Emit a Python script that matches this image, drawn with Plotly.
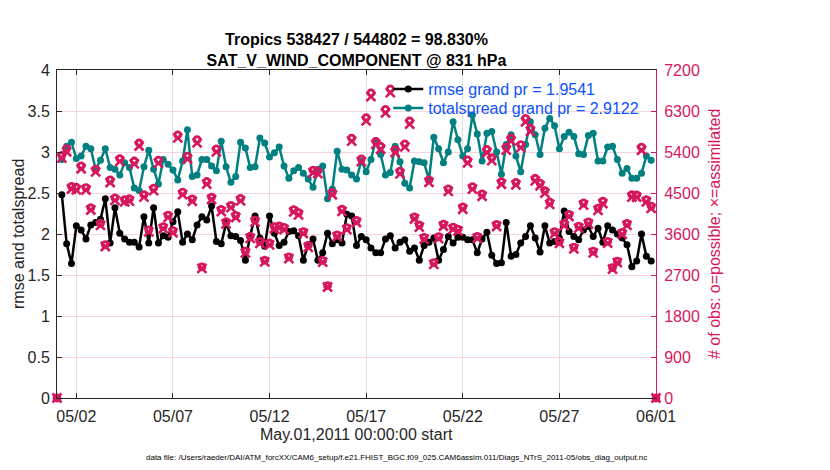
import pandas as pd
import plotly.graph_objects as go

# ---------------- data ----------------
bin_start = "2011-05-01 06:00"
bin_freq = "6h"
n_bins = 123
x_range = ["2011-05-01 00:00", "2011-06-01 00:00"]
edge_times = ["2011-05-01 00:00", "2011-06-01 00:00"]
edge_counts = [0, 0]

tick_dates = ["2011-05-02", "2011-05-07", "2011-05-12", "2011-05-17",
              "2011-05-22", "2011-05-27", "2011-06-01"]
tick_labels = ["05/02", "05/07", "05/12", "05/17", "05/22", "05/27", "06/01"]

rmse = [2.48, 1.88, 1.64, 2.10, 2.05, 1.94, 2.11, 2.14, 2.18, 2.43,
        1.89, 2.32, 2.01, 1.94, 1.90, 1.90, 1.84, 2.21, 1.89, 2.32,
        1.89, 1.98, 1.96, 2.15, 2.27, 1.90, 2.00, 1.93, 2.11, 2.21,
        2.17, 2.34, 1.91, 1.88, 2.13, 1.98, 1.97, 1.92, 1.68, 1.98,
        2.22, 1.95, 1.85, 2.22, 2.01, 1.86, 1.90, 2.03, 2.04, 1.98,
        1.68, 1.87, 1.94, 1.68, 1.77, 2.01, 1.88, 1.93, 1.89, 2.24,
        2.22, 1.86, 1.97, 1.93, 1.83, 1.77, 1.77, 1.94, 1.98, 1.83,
        1.90, 1.93, 1.79, 1.83, 1.68, 1.86, 1.90, 1.95, 1.68, 1.81,
        1.97, 1.89, 1.96, 1.96, 1.93, 1.93, 1.77, 1.94, 2.02, 1.74,
        1.64, 1.65, 2.14, 1.73, 1.75, 1.89, 1.97, 2.10, 1.95, 1.78,
        2.10, 1.89, 1.91, 1.95, 2.28, 2.03, 1.97, 1.93, 2.05, 2.09,
        1.97, 2.07, 1.90, 2.10, 2.05, 2.00, 1.95, 1.87, 1.60, 1.67,
        2.00, 1.73, 1.67]

totalspread = [2.91, 3.07, 3.12, 2.92, 2.95, 3.07, 3.04, 2.79, 2.90, 3.04,
               2.81, 2.79, 2.72, 2.87, 2.81, 2.56, 2.53, 2.82, 3.02, 2.79,
               2.61, 2.91, 2.85, 2.78, 2.66, 2.89, 3.27, 2.70, 2.72, 2.91,
               2.91, 2.83, 2.77, 3.13, 2.82, 2.63, 2.70, 3.12, 3.05, 2.81,
               2.82, 3.17, 3.11, 2.94, 2.99, 3.06, 2.83, 2.68, 2.77, 2.81,
               2.74, 2.67, 2.57, 2.79, 2.83, 2.43, 2.55, 3.01, 2.79, 2.78,
               2.72, 2.67, 2.89, 2.76, 2.91, 3.14, 2.97, 2.72, 2.75, 3.07,
               2.88, 2.62, 2.56, 2.89, 2.88, 2.87, 2.66, 3.18, 3.04, 2.87,
               3.00, 3.37, 3.15, 2.95, 3.04, 3.45, 3.22, 2.89, 3.23, 3.25,
               3.00, 2.73, 3.09, 3.21, 2.95, 2.76, 3.09, 3.37, 3.21, 2.97,
               3.29, 3.41, 3.32, 3.04, 3.19, 3.24, 3.19, 2.98, 2.97, 3.20,
               3.23, 2.89, 2.89, 3.06, 3.07, 2.91, 2.74, 2.80, 2.68, 2.68,
               2.74, 2.95, 2.90]

obs_possible = [5328, 5472, 4644, 4626, 5094, 4620, 4176, 5022, 3834, 3366,
                4788, 4392, 5256, 4356, 4374, 5202, 5598, 4464, 3690, 4608,
                5220, 3762, 4014, 3672, 5778, 4518, 5310, 4370, 5670, 2880,
                4752, 4410, 5470, 4140, 3870, 4230, 4010, 4380, 3222, 3546,
                3906, 3438, 3024, 3402, 3760, 3780, 3744, 3096, 4135, 4068,
                3654, 3348, 5004, 4986, 3020, 2466, 4515, 3582, 4145, 3740,
                5706, 3900, 5250, 6156, 6696, 5634, 5526, 6336, 6786, 5454,
                4980, 5580, 6084, 3978, 3798, 3528, 4790, 2970, 3540, 3816,
                4590, 3750, 3708, 4194, 5225, 4640, 3550, 4482, 5455, 5274,
                3810, 4750, 5508, 5710, 4734, 5562, 6138, 5922, 4824, 4716,
                4554, 4302, 3650, 3435, 3830, 4032, 3312, 3775, 4284, 3865,
                3225, 4170, 4320, 3440, 2862, 3006, 3636, 3835, 4464, 4460,
                5505, 4356, 4212]

obs_assimilated = [5264, 5406, 4588, 4570, 5033, 4565, 4126, 4962, 3788, 3326,
                   4731, 4339, 5193, 4304, 4322, 5140, 5531, 4410, 3646, 4553,
                   5157, 3717, 3966, 3628, 5709, 4464, 5246, 4318, 5602, 2845,
                   4695, 4357, 5404, 4090, 3824, 4179, 3962, 4327, 3183, 3503,
                   3859, 3397, 2988, 3361, 3715, 3735, 3699, 3059, 4085, 4019,
                   3610, 3308, 4944, 4926, 2984, 2436, 4461, 3539, 4095, 3695,
                   5638, 3853, 5187, 6082, 6616, 5566, 5460, 6260, 6705, 5389,
                   4920, 5513, 6011, 3930, 3752, 3486, 4733, 2934, 3498, 3770,
                   4535, 3705, 3664, 4144, 5162, 4584, 3507, 4428, 5390, 5211,
                   3764, 4693, 5442, 5641, 4677, 5495, 6064, 5851, 4766, 4659,
                   4499, 4250, 3606, 3394, 3784, 3984, 3272, 3730, 4233, 3819,
                   3186, 4120, 4268, 3399, 2828, 2970, 3592, 3789, 4410, 4406,
                   5439, 4304, 4161]

rmse_label = "rmse grand pr = 1.9541"
spread_label = "totalspread grand pr = 2.9122"
title_lines = ["Tropics 538427 / 544802 = 98.830%", "SAT_V_WIND_COMPONENT @ 831 hPa"]
xlabel = "May.01,2011 00:00:00 start"
ylabel_left = "rmse and totalspread"
ylabel_right = "# of obs: o=possible; \u00d7=assimilated"
footnote = ("data file: /Users/raeder/DAI/ATM_forcXX/CAM6_setup/f.e21.FHIST_BGC."
            "f09_025.CAM6assim.011/Diags_NTrS_2011-05/obs_diag_output.nc")

# ---------------- style ----------------
PINK = "#D6175E"
TEAL = "#008080"
BLUE = "#0A52FF"
AXC = "#262626"
FONT = "Liberation Sans"

times = pd.date_range(bin_start, periods=n_bins, freq=bin_freq)

fig = go.Figure()

fig.add_trace(go.Scatter(
    x=times, y=rmse, mode="lines+markers", name=rmse_label,
    line=dict(color="black", width=2.5),
    marker=dict(symbol="circle", size=7, color="black"),
    yaxis="y", legend="legend"))
fig.add_trace(go.Scatter(
    x=times, y=totalspread, mode="lines+markers", name=spread_label,
    line=dict(color=TEAL, width=2.5),
    marker=dict(symbol="circle", size=7, color=TEAL),
    yaxis="y", legend="legend2"))

# counts on right axis
cnt_x = list(pd.to_datetime(edge_times[:1])) + list(times) + list(pd.to_datetime(edge_times[1:]))
poss_y = edge_counts[:1] + obs_possible + edge_counts[1:]
assim_y = edge_counts[:1] + obs_assimilated + edge_counts[1:]
fig.add_trace(go.Scatter(
    x=cnt_x, y=poss_y, mode="markers", showlegend=False, cliponaxis=False,
    marker=dict(symbol="circle-open", size=6, color=PINK, line=dict(color=PINK, width=2.8)),
    yaxis="y2"))
fig.add_trace(go.Scatter(
    x=cnt_x, y=assim_y, mode="markers", showlegend=False, cliponaxis=False,
    marker=dict(symbol="x-thin-open", size=9, color=PINK, line=dict(color=PINK, width=2.6)),
    yaxis="y2"))

leg_common = dict(xanchor="left", yanchor="middle",
                  bgcolor="rgba(0,0,0,0)", borderwidth=0,
                  font=dict(family=FONT, size=16, color=BLUE), itemwidth=30)

fig.update_layout(
    width=830, height=470,
    margin=dict(l=57, r=174, t=70, b=72),
    paper_bgcolor="white", plot_bgcolor="white",
    font=dict(family=FONT, size=16, color=AXC),
    title=dict(text="<b>" + title_lines[0] + "</b><br><b>" + title_lines[1] + "</b>",
               x=0.5, xref="paper", xanchor="center",
               y=1 - 45 / 470, yref="container", yanchor="middle",
               font=dict(family=FONT, size=16, color="black")),
    showlegend=True,
    legend=dict(x=0.553, y=(398 - 89) / 328, **leg_common),
    legend2=dict(x=0.553, y=(398 - 108) / 328, **leg_common),
    xaxis=dict(type="date", range=x_range,
               tickvals=tick_dates, ticktext=tick_labels,
               ticks="inside", ticklen=5, tickcolor=AXC,
               showline=True, linecolor=AXC, linewidth=1, mirror="ticks",
               showgrid=True, gridcolor="#DEDEDE", gridwidth=1,
               zeroline=False, tickfont=dict(size=16, color=AXC),
               ticklabelstandoff=4),
    yaxis=dict(range=[0, 4], dtick=0.5, tick0=0,
               ticks="inside", ticklen=5, tickcolor=AXC,
               showline=True, linecolor=AXC, linewidth=1,
               showgrid=True, gridcolor="#F5D3DF", gridwidth=1,
               zeroline=False, tickfont=dict(size=16, color=AXC),
               ticklabelstandoff=3),
    yaxis2=dict(range=[0, 7200], dtick=900, tick0=0, overlaying="y", side="right",
                ticks="inside", ticklen=5, tickcolor=PINK,
                showline=True, linecolor=PINK, linewidth=1,
                showgrid=False, zeroline=False,
                tickfont=dict(size=16, color=PINK), ticklabelstandoff=4),
)

fig.add_annotation(text=xlabel, xref="paper", yref="paper",
                   x=0.5, y=(398 - 434) / 328, xanchor="center", yanchor="middle",
                   showarrow=False, font=dict(family=FONT, size=16, color=AXC))
fig.add_annotation(text=ylabel_left, xref="paper", yref="paper",
                   x=(18 - 57) / 599, y=0.5, xanchor="center", yanchor="middle",
                   textangle=-90, showarrow=False,
                   font=dict(family=FONT, size=16, color=AXC))
fig.add_annotation(text=ylabel_right, xref="paper", yref="paper",
                   x=(714 - 57) / 599, y=0.5, xanchor="center", yanchor="middle",
                   textangle=-90, showarrow=False,
                   font=dict(family=FONT, size=16, color=PINK))
fig.add_annotation(text=footnote, xref="paper", yref="paper",
                   x=(397 - 57) / 599, y=(398 - 457) / 328, xanchor="center", yanchor="middle",
                   showarrow=False, font=dict(family=FONT, size=8, color="black"))

fig.write_html("out.html", config={"displayModeBar": False},
               post_script="document.body.style.margin='0';")
